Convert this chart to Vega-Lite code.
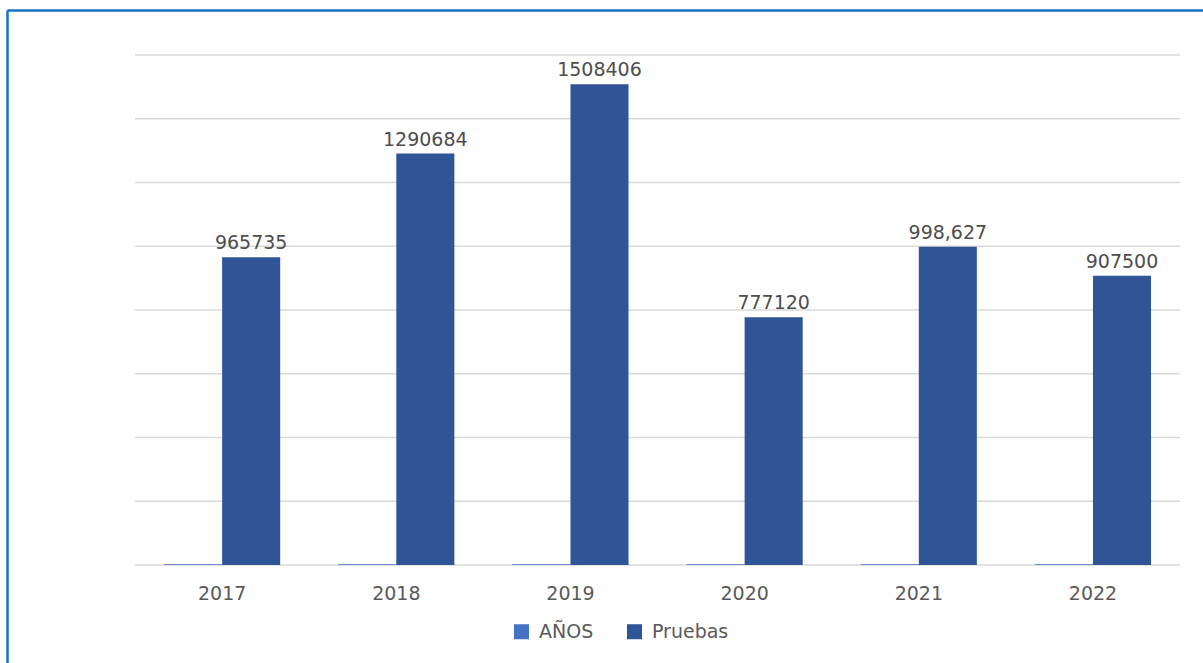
{
  "$schema": "https://vega.github.io/schema/vega-lite/v6.json",
  "autosize": {"type": "none"},
  "padding": {"left": 7, "top": 10, "right": 0, "bottom": 0},
  "width": 1196,
  "height": 653,
  "background": "#FFFFFF",
  "config": {
    "view": {"stroke": null},
    "font": "DejaVu Sans"
  },
  "datasets": {
    "pruebas": [
      {"anio": "2017", "serie": "AÑOS", "valor": 2017, "etiqueta": ""},
      {"anio": "2017", "serie": "Pruebas", "valor": 965735, "etiqueta": "965735"},
      {"anio": "2018", "serie": "AÑOS", "valor": 2018, "etiqueta": ""},
      {"anio": "2018", "serie": "Pruebas", "valor": 1290684, "etiqueta": "1290684"},
      {"anio": "2019", "serie": "AÑOS", "valor": 2019, "etiqueta": ""},
      {"anio": "2019", "serie": "Pruebas", "valor": 1508406, "etiqueta": "1508406"},
      {"anio": "2020", "serie": "AÑOS", "valor": 2020, "etiqueta": ""},
      {"anio": "2020", "serie": "Pruebas", "valor": 777120, "etiqueta": "777120"},
      {"anio": "2021", "serie": "AÑOS", "valor": 2021, "etiqueta": ""},
      {"anio": "2021", "serie": "Pruebas", "valor": 998627, "etiqueta": "998,627"},
      {"anio": "2022", "serie": "AÑOS", "valor": 2022, "etiqueta": ""},
      {"anio": "2022", "serie": "Pruebas", "valor": 907500, "etiqueta": "907500"}
    ],
    "rejilla": [
      {"valor": 0, "desde": "2017", "hasta": "2022"},
      {"valor": 200000, "desde": "2017", "hasta": "2022"},
      {"valor": 400000, "desde": "2017", "hasta": "2022"},
      {"valor": 600000, "desde": "2017", "hasta": "2022"},
      {"valor": 800000, "desde": "2017", "hasta": "2022"},
      {"valor": 1000000, "desde": "2017", "hasta": "2022"},
      {"valor": 1200000, "desde": "2017", "hasta": "2022"},
      {"valor": 1400000, "desde": "2017", "hasta": "2022"},
      {"valor": 1600000, "desde": "2017", "hasta": "2022"}
    ]
  },
  "encoding": {
    "y": {
      "field": "valor",
      "type": "quantitative",
      "scale": {"domain": [-307451, 1741176], "nice": false, "zero": false},
      "axis": {
        "orient": "left",
        "title": null,
        "labels": false,
        "ticks": false,
        "grid": false,
        "domain": true,
        "domainColor": "#1473C7",
        "domainWidth": 2.5,
        "domainCap": "butt"
      }
    }
  },
  "resolve": {"axis": {"x": "independent"}},
  "layer": [
    {
      "data": {"name": "rejilla"},
      "mark": {"type": "rule", "color": "#D9D9D9", "strokeWidth": 1.5},
      "encoding": {
        "x": {
          "field": "desde",
          "type": "nominal",
          "bandPosition": 0,
          "scale": {"paddingInner": 0, "paddingOuter": 0.4335, "align": 0.848},
          "axis": {
            "orient": "top",
            "title": null,
            "labels": false,
            "ticks": false,
            "grid": false,
            "domain": true,
            "domainColor": "#1473C7",
            "domainWidth": 2.5,
            "domainCap": "butt"
          }
        },
        "x2": {"field": "hasta", "bandPosition": 1}
      }
    },
    {
      "data": {"name": "pruebas"},
      "mark": {"type": "bar"},
      "encoding": {
        "x": {
          "field": "anio",
          "type": "nominal",
          "axis": {
            "orient": "bottom",
            "offset": -98,
            "title": null,
            "domain": false,
            "ticks": false,
            "grid": false,
            "labelAngle": 0,
            "labelPadding": 19,
            "labelFontSize": 19,
            "labelColor": "#595959",
            "labelFont": "DejaVu Sans"
          }
        },
        "xOffset": {
          "field": "serie",
          "type": "nominal",
          "sort": ["AÑOS", "Pruebas"],
          "scale": {"paddingInner": 0, "paddingOuter": 0.5}
        },
        "y2": {"datum": 0},
        "color": {
          "field": "serie",
          "type": "nominal",
          "sort": ["AÑOS", "Pruebas"],
          "scale": {"domain": ["AÑOS", "Pruebas"], "range": ["#4472C4", "#2F5597"]},
          "legend": {
            "orient": "none",
            "direction": "horizontal",
            "legendX": 505,
            "legendY": 612,
            "title": null,
            "padding": 0,
            "symbolType": "square",
            "symbolSize": 225,
            "symbolStrokeWidth": 0,
            "symbolOpacity": 1,
            "labelFontSize": 19,
            "labelColor": "#595959",
            "labelFont": "DejaVu Sans",
            "labelOffset": 8,
            "columnPadding": 31
          }
        }
      }
    },
    {
      "data": {"name": "pruebas"},
      "transform": [{"filter": "datum.serie === 'Pruebas'"}],
      "mark": {
        "type": "text",
        "baseline": "bottom",
        "dy": -4,
        "fontSize": 19,
        "color": "#4D4D4D",
        "font": "DejaVu Sans"
      },
      "encoding": {
        "x": {"field": "anio", "type": "nominal", "axis": null},
        "xOffset": {"field": "serie", "type": "nominal", "sort": ["AÑOS", "Pruebas"]},
        "text": {"field": "etiqueta"}
      }
    }
  ]
}
